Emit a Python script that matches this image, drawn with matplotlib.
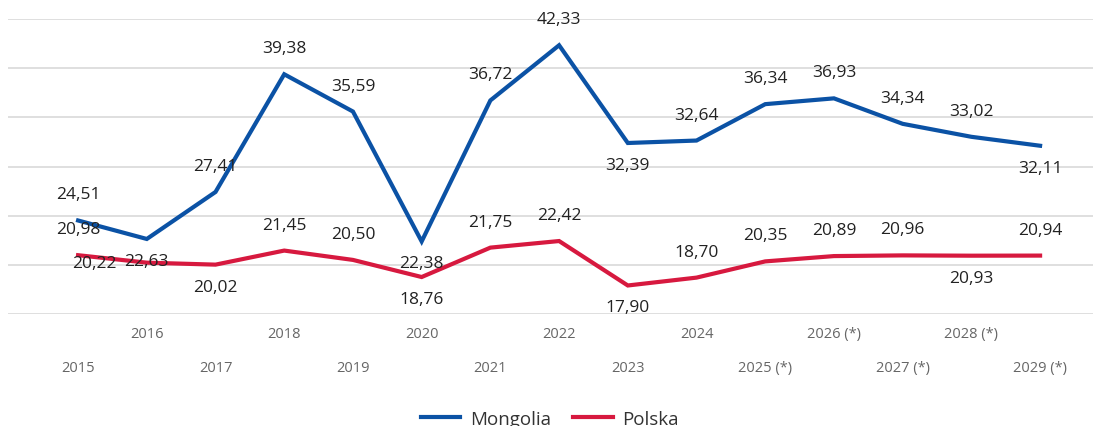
import matplotlib.pyplot as plt

# Data
years = ["2015", "2016", "2017", "2018", "2019", "2020", "2021", "2022",
         "2023", "2024", "2025 (*)", "2026 (*)", "2027 (*)", "2028 (*)", "2029 (*)"]
mongolia = [24.51, 22.63, 27.41, 39.38, 35.59, 22.38, 36.72, 42.33,
            32.39, 32.64, 36.34, 36.93, 34.34, 33.02, 32.11]
polska = [20.98, 20.22, 20.02, 21.45, 20.50, 18.76, 21.75, 22.42,
          17.90, 18.70, 20.35, 20.89, 20.96, 20.93, 20.94]

# where each value label sits: a = above, b = below, l = left
mongolia_pos = list("abaaabaabaaaaab")
polska_pos = list("albaabaabaaaaba")

BLUE = "#0b52a5"
RED = "#d7193f"

plt.rcParams['font.family'] = ['Open Sans', 'DejaVu Sans']

fig = plt.figure(figsize=(10.93, 4.27), dpi=100)
ax = fig.add_axes([8 / 1093, 112 / 427, 1 - 8 / 1093, (315 - 20) / 427])

x = list(range(len(years)))
ax.plot(x, mongolia, color=BLUE, lw=3, label="Mongolia", solid_joinstyle="miter", zorder=3)
ax.plot(x, polska, color=RED, lw=3, label="Polska", solid_joinstyle="miter", zorder=3)

offsets = {"a": (0, 26), "b": (0, -22), "l": (-52, 0)}


def label_points(values, places):
    for i, (v, p) in enumerate(zip(values, places)):
        dx, dy = offsets[p]
        ax.annotate(f"{v:.2f}".replace(".", ","), (i, v), xytext=(dx, dy),
                    textcoords="offset pixels", ha="center", va="center",
                    fontsize=12.5, color="#222222", zorder=4)


label_points(mongolia, mongolia_pos)
label_points(polska, polska_pos)

ax.set_xlim(-1.02, 14.77)
ax.set_ylim(15, 45)
ax.set_yticks([15, 20, 25, 30, 35, 40, 45])
ax.set_yticklabels([])
ax.tick_params(axis="y", length=0)
ax.grid(axis="y", color="#d9d9d9", lw=1.2)
ax.set_axisbelow(True)
for s in ax.spines.values():
    s.set_visible(False)

# staggered year labels
ax.set_xticks(x[0::2])
ax.set_xticklabels(years[0::2])
ax.set_xticks(x[1::2], minor=True)
ax.set_xticklabels(years[1::2], minor=True)
ax.tick_params(axis="x", which="major", length=0, pad=33, labelsize=10.5, labelcolor="#666666")
ax.tick_params(axis="x", which="minor", length=0, pad=9, labelsize=10.5, labelcolor="#666666")

fig.legend(loc="center", bbox_to_anchor=(0.503, 7 / 427), ncol=2,
           frameon=False, fontsize=13.5, handlelength=2.1, handletextpad=0.5,
           columnspacing=1.2, labelcolor="#333333")

fig.savefig("out.png", dpi=100)
